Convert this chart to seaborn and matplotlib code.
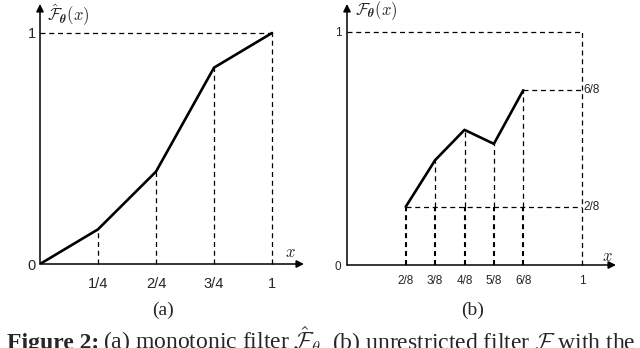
import matplotlib
matplotlib.use("Agg")
import matplotlib.pyplot as plt
import seaborn as sns

# panel (a): monotonic filter
A_X = [0, 0.25, 0.5, 0.75, 1.0]
A_Y = [0, 0.15, 0.40, 0.85, 1.0]
A_TICKS = ["1/4", "2/4", "3/4", "1"]

# panel (b): unrestricted filter
B_X = [0.25, 0.375, 0.5, 0.625, 0.75]
B_Y = [0.25, 0.45, 0.58, 0.52, 0.75]
B_TICKS = ["2/8", "3/8", "4/8", "5/8", "6/8", "1"]

sns.set_style("white")
plt.rcParams["font.family"] = ["Liberation Sans", "DejaVu Sans"]
plt.rcParams["mathtext.fontset"] = "cm"

W, H = 640, 348
fig = plt.figure(figsize=(6.4, 3.48), dpi=100)

DASH = dict(color="black", lw=0.9, linestyle=(0, (4, 3)), clip_on=False)
BOLD_DASH = dict(color="black", lw=1.5, linestyle=(0, (2.4, 1.9)), clip_on=False)


def make_axes(x0, x1, y0, y1, xtip, ytip):
    # pixel positions of the origin, of x=1 / y=1 and of the arrow tips
    ax = fig.add_axes([x0 / W, (H - y0) / H, (xtip - x0) / W, (y0 - ytip) / H])
    ax.set_xlim(0, (xtip - x0) / (x1 - x0))
    ax.set_ylim(0, (y0 - ytip) / (y0 - y1))
    for s in ax.spines.values():
        s.set_visible(False)
    arrow = dict(arrowstyle="-|>", color="black", lw=1.1, mutation_scale=11,
                 shrinkA=0, shrinkB=0)
    ax.annotate("", xy=(1, 0), xytext=(0, 0), xycoords="axes fraction",
                arrowprops=arrow, annotation_clip=False)
    ax.annotate("", xy=(0, 1), xytext=(0, 0), xycoords="axes fraction",
                arrowprops=arrow, annotation_clip=False)
    return ax


# ---- (a)
ax = make_axes(40, 272, 264, 33, 304, 4)
ax.plot([0, 1], [1, 1], **DASH)
for x, y in zip(A_X[1:], A_Y[1:]):
    ax.plot([x, x], [0, y], **DASH)
sns.lineplot(x=A_X, y=A_Y, ax=ax, color="black", lw=1.9, sort=False)
ax.set_xticks(A_X[1:], labels=A_TICKS)
ax.set_yticks([0, 1], labels=["0", "1"])
ax.tick_params(axis="x", length=0, pad=9, labelsize=10.5)
ax.tick_params(axis="y", length=0, pad=3, labelsize=10.5)
ax.text(0.03, 1.075, r"$\hat{\mathcal{F}}_{\boldsymbol{\theta}}(x)$", fontsize=12,
        va="center", ha="left")
ax.text(1.08, 0.05, r"$x$", fontsize=12, ha="center", va="center")

# ---- (b)
bx = make_axes(347, 582, 265, 32, 616, 4)
bx.plot([0, 1], [1, 1], **DASH)
bx.plot([1, 1], [0, 1], **DASH)
bx.plot([B_X[-1], 1.0], [B_Y[-1], B_Y[-1]], **DASH)
bx.plot([B_X[0], 1.0], [B_Y[0], B_Y[0]], **DASH)
for x, y in zip(B_X, B_Y):
    bx.plot([x, x], [B_Y[0], y], **DASH)
    bx.plot([x, x], [0, B_Y[0]], **BOLD_DASH)
sns.lineplot(x=B_X, y=B_Y, ax=bx, color="black", lw=1.9, sort=False)
bx.set_xticks(B_X + [1.0], labels=B_TICKS)
bx.set_yticks([0, 1], labels=["0", "1"])
bx.tick_params(axis="x", length=0, pad=7, labelsize=8.5)
bx.tick_params(axis="y", length=0, pad=4, labelsize=8.5)
for v, lab in [(B_Y[-1], "6/8"), (B_Y[0], "2/8")]:
    bx.text(1.005, v, lab, fontsize=8.5, ha="left", va="center")
bx.text(0.035, 1.09, r"$\mathcal{F}_{\boldsymbol{\theta}}(x)$", fontsize=12,
        va="center", ha="left")
bx.text(1.11, 0.035, r"$x$", fontsize=12, ha="center", va="center")

# ---- sub-captions and figure caption
serif = ["Liberation Serif", "DejaVu Serif"]
fig.text(163 / W, 1 - 310 / H, "(a)", family=serif, fontsize=14, ha="center", va="center")
fig.text(473 / W, 1 - 310 / H, "(b)", family=serif, fontsize=14, ha="center", va="center")
fig.text(7 / W, -1 / H, "Figure 2:", family=serif, fontsize=17, fontweight="bold",
         ha="left", va="baseline")
fig.text(103 / W, -1 / H, r"(a) monotonic filter $\hat{\mathcal{F}}_{\theta}$",
         family=serif, fontsize=17, ha="left", va="baseline")
fig.text(332 / W, -1 / H, r"(b) unrestricted filter $\mathcal{F}$ with the",
         family=serif, fontsize=17, ha="left", va="baseline")

fig.savefig("out.png", dpi=100)
